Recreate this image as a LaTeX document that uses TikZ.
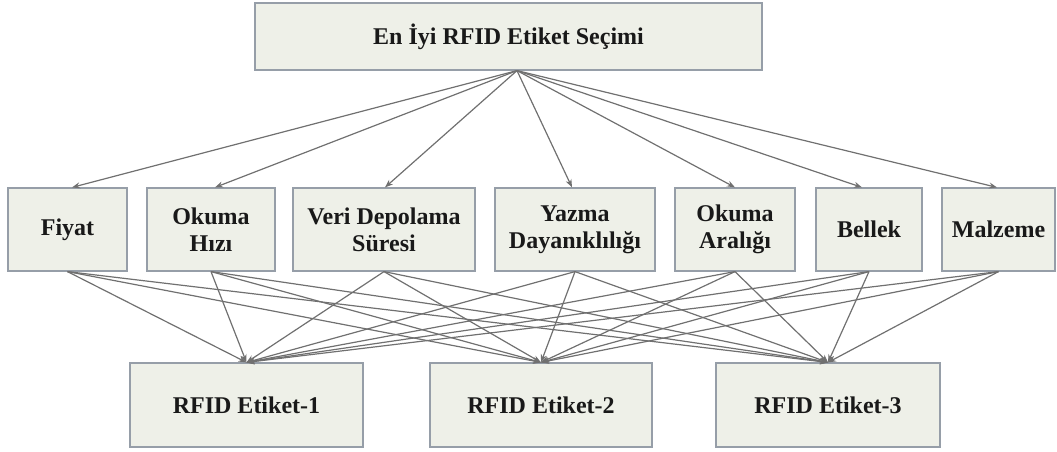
\documentclass[tikz,border=0pt]{standalone}
\usepackage{fontspec}
\setmainfont{Liberation Serif}
\usetikzlibrary{arrows.meta,calc}
\definecolor{boxfill}{RGB}{238,240,232}
\definecolor{boxline}{RGB}{150,158,168}
\definecolor{arrowcol}{RGB}{112,112,112}
\definecolor{txt}{RGB}{25,25,25}
\tikzset{
  box/.style={draw=boxline, line width=1.2pt, fill=boxfill, inner sep=2pt,
    align=center, text=txt, font=\fontsize{24}{27}\selectfont\bfseries},
  conn/.style={draw=arrowcol, line width=1.2pt, -{Stealth[length=8pt,width=6pt]}}
}
\begin{document}
\begin{tikzpicture}[x=1pt,y=-1pt]
\useasboundingbox (0,0) rectangle (1057,452);
% top
\node[box, minimum width=507pt, minimum height=67pt] (top) at (508.5,36.5) {En İyi RFID Etiket Seçimi};
% middle
\node[box, minimum width=119pt, minimum height=83pt] (fiyat) at (67.5,229.5) {Fiyat};
\node[box, minimum width=128pt, minimum height=83pt] (hiz) at (211,229.5) {Okuma\\Hızı};
\node[box, minimum width=182pt, minimum height=83pt] (veri) at (384,229.5) {Veri Depolama\\Süresi};
\node[box, minimum width=160pt, minimum height=83pt] (yazma) at (575,229.5) {Yazma\\Dayanıklılığı};
\node[box, minimum width=120pt, minimum height=83pt] (aralik) at (735,229.5) {Okuma\\Aralığı};
\node[box, minimum width=106pt, minimum height=83pt] (bellek) at (869,229.5) {Bellek};
\node[box, minimum width=113pt, minimum height=83pt] (malzeme) at (998.5,229.5) {Malzeme};
% bottom
\node[box, minimum width=233pt, minimum height=84pt] (e1) at (246.5,405) {RFID Etiket-1};
\node[box, minimum width=222pt, minimum height=84pt] (e2) at (541,405) {RFID Etiket-2};
\node[box, minimum width=224pt, minimum height=84pt] (e3) at (828,405) {RFID Etiket-3};
% source point
\coordinate (src) at ($(top.south)+(8.5,0)$);
% top arrows
\draw[conn] (src) -- ([xshift=4.5pt]fiyat.north);
\draw[conn] (src) -- ([xshift=4pt]hiz.north);
\draw[conn] (src) -- ([xshift=1pt]veri.north);
\draw[conn] (src) -- ([xshift=-3pt]yazma.north);
\draw[conn] (src) -- (aralik.north);
\draw[conn] (src) -- ([xshift=-7pt]bellek.north);
\draw[conn] (src) -- ([xshift=-1.5pt]malzeme.north);
% bottom arrows
\foreach \m in {fiyat,hiz,veri,yazma,aralik,bellek,malzeme}{
  \foreach \e in {e1,e2,e3}{
    \draw[conn] (\m.south) -- (\e.north);
  }
}
\end{tikzpicture}
\end{document}
